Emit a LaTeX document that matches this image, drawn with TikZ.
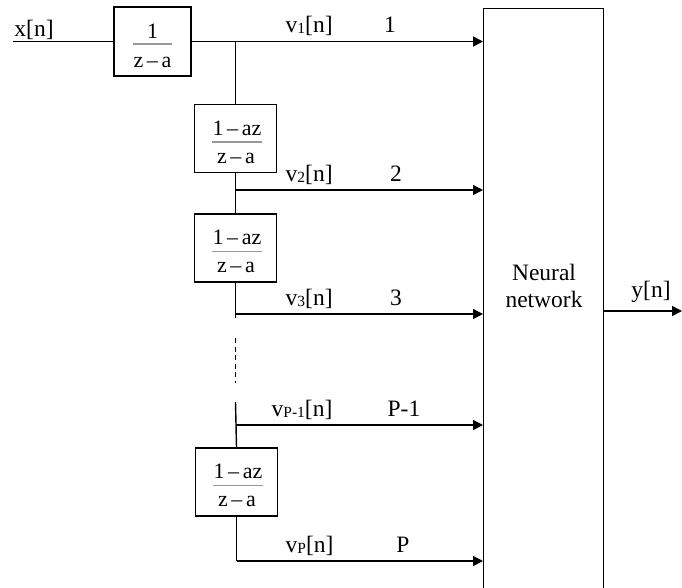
\documentclass[tikz,border=0pt]{standalone}
\usepackage{fontspec}
\setmainfont{Liberation Serif}
\usetikzlibrary{arrows.meta}
\newcommand{\sub}[1]{{\fontsize{15.5}{15.5}\selectfont\raisebox{-1pt}{#1}}}
\begin{document}
\begin{tikzpicture}[x=1pt,y=-1pt,
  line width=1.4pt,
  blk/.style={draw, minimum width=82pt, minimum height=68pt, inner sep=0pt},
  frt/.style={font=\fontsize{22}{24}\selectfont, inner sep=0pt, anchor=base},
  bar/.style={draw=gray!80, line width=1.3pt},
  lbl/.style={font=\fontsize{23.5}{27}\selectfont, inner sep=0pt, anchor=base},
  arr/.style={-{Triangle[length=10pt,width=10pt]}}]
\useasboundingbox (0,0) rectangle (682,587);
% neural network block (open at the bottom of the page)
\node[draw, minimum width=120pt, minimum height=620pt, anchor=north west, inner sep=0pt] (nn) at (483,8) {};
\node[font=\fontsize{23.5}{27}\selectfont, align=center, anchor=base] (nnt) at (544,307) {Neural\\network};
% blocks
\node[blk, minimum width=77pt, minimum height=69pt] (b1) at (152.5,41.5) {};
\node[frt] (b1n) at (152.5,38) {1};
\node[frt] (b1d) at (152.5,67) {z\,–\,a};
\draw[bar] (b1d.west |- 0,44) -- (b1d.east |- 0,44);
\node[blk] (b2) at (235.5,138.5) {};
\node[frt] (b2n) at (237,135) {1\,–\,az};
\node[frt] (b2d) at (236,163) {z\,–\,a};
\draw[bar] (b2n.west |- 0,142) -- (b2n.east |- 0,142);
\node[blk] (b3) at (235.5,248) {};
\node[frt] (b3n) at (237,244.5) {1\,–\,az};
\node[frt] (b3d) at (236,272.5) {z\,–\,a};
\draw[bar] (b3n.west |- 0,251.5) -- (b3n.east |- 0,251.5);
\node[blk] (b4) at (236.5,482) {};
\node[frt] (b4n) at (238,478.5) {1\,–\,az};
\node[frt] (b4d) at (237,506.5) {z\,–\,a};
\draw[bar] (b4n.west |- 0,485.5) -- (b4n.east |- 0,485.5);
% junctions
\coordinate (xin) at (13,41.5);
\coordinate (j1) at (235.5,41.5);
\coordinate (j2) at (235.5,190);
\coordinate (j3) at (235.5,314);
\coordinate (e3) at (235.5,318);
\coordinate (d1) at (235.5,338);
\coordinate (d2) at (235.5,383);
\coordinate (s4) at (235.5,402);
\coordinate (j4) at (235.5,425);
\coordinate (j5) at (236.5,561);
\coordinate (yout) at (682,311);
% connectors
\draw (xin) -- (b1.west);
\draw[arr] (b1.east) -- (b1.east -| nn.west);
\draw (j1) -- (b2.north);
\draw (b2.south) -- (b3.north);
\draw[arr] (j2) -- (j2 -| nn.west);
\draw (b3.south) -- (e3);
\draw[arr] (j3) -- (j3 -| nn.west);
\draw[dash pattern=on 5pt off 3.5pt] (d1) -- (d2);
\draw (s4) -- (b4.north);
\draw[arr] (j4) -- (j4 -| nn.west);
\draw (b4.south) -- (j5);
\draw[arr] (j5) -- (j5 -| nn.west);
\draw[arr] (yout -| nn.east) -- (yout);
% labels
\node[lbl] (lx) at (34,36) {x[n]};
\node[lbl, anchor=base west] (lv1) at (285,32) {v\sub{1}[n]};
\node[lbl, anchor=base west] (lv2) at (285,181) {v\sub{2}[n]};
\node[lbl, anchor=base west] (lv3) at (285,305) {v\sub{3}[n]};
\node[lbl, anchor=base west] (lv4) at (271,416) {v\sub{P-1}[n]};
\node[lbl, anchor=base west] (lv5) at (285,552) {v\sub{P}[n]};
\node[lbl] (n1) at (390,32) {1};
\node[lbl] (n2) at (396,181) {2};
\node[lbl] (n3) at (396,305) {3};
\node[lbl] (n4) at (404,416) {P-1};
\node[lbl] (n5) at (403,552) {P};
\node[lbl] (ly) at (651,297) {y[n]};
\end{tikzpicture}
\end{document}
